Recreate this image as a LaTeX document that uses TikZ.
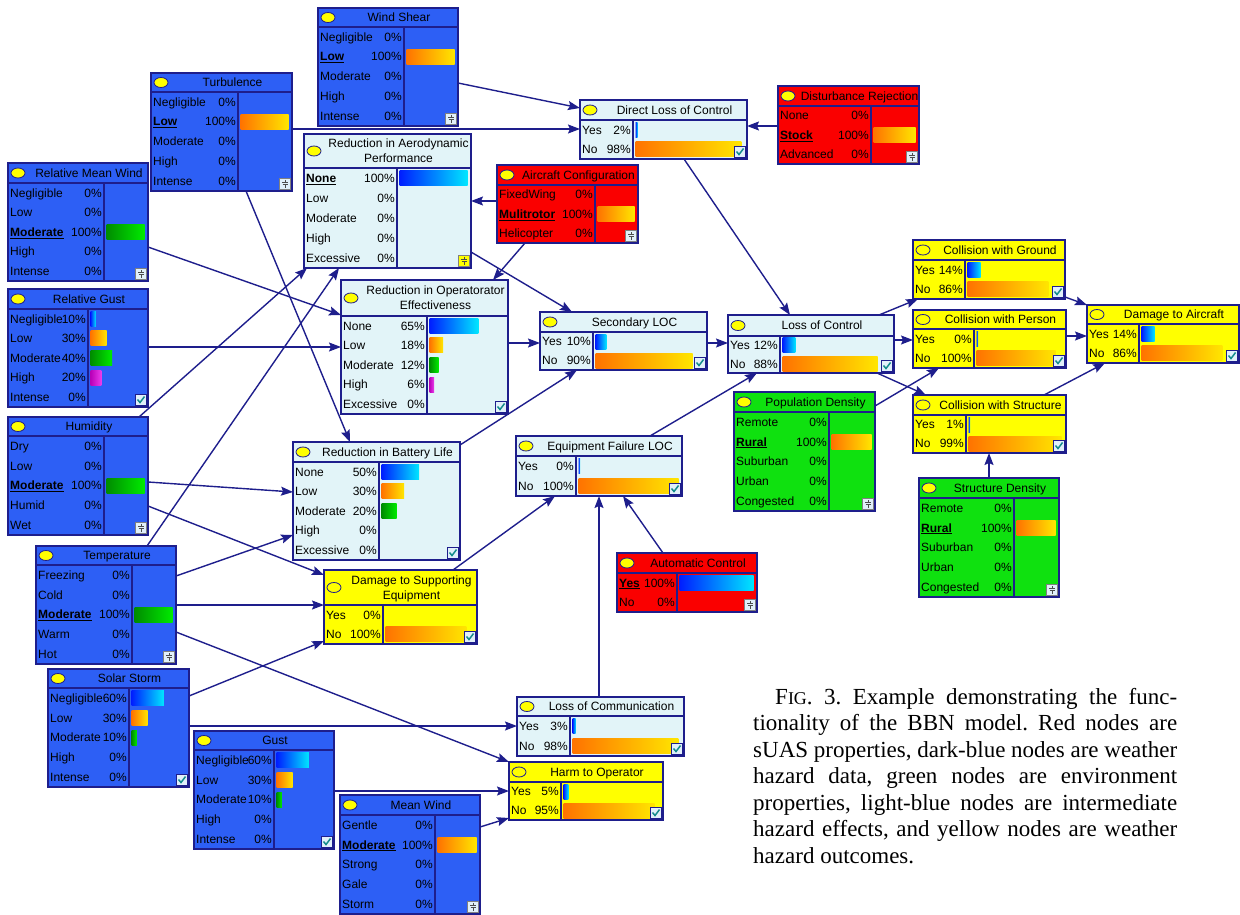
\documentclass[tikz,border=0pt]{standalone}
\usepackage{fontspec}
\setmainfont{Liberation Sans}
\newfontfamily\capfont{Liberation Serif}
\usetikzlibrary{arrows.meta}
\definecolor{navy}{RGB}{30,30,140}
\definecolor{nblue}{RGB}{45,95,245}
\definecolor{nlight}{RGB}{226,244,248}
\definecolor{nred}{RGB}{250,0,0}
\definecolor{ngreen}{RGB}{15,225,15}
\definecolor{nyellow}{RGB}{255,255,0}
\definecolor{bB1}{RGB}{0,30,255}
\definecolor{bB2}{RGB}{0,230,255}
\definecolor{bO1}{RGB}{255,115,0}
\definecolor{bO2}{RGB}{255,230,0}
\definecolor{bG1}{RGB}{0,140,0}
\definecolor{bG2}{RGB}{0,235,0}
\definecolor{bM1}{RGB}{185,0,185}
\definecolor{bM2}{RGB}{235,60,235}
\definecolor{chk}{RGB}{20,140,140}
\definecolor{icbg}{RGB}{225,240,250}
\tikzset{
  box/.style={draw=navy, line width=1.5pt, inner sep=0pt, outer sep=0pt, anchor=north west},
  sepl/.style={draw=navy, line width=1.3pt},
  conn/.style={draw=navy, line width=1.4pt, -{Stealth[length=12pt,width=9pt,inset=2pt]}},
  txt/.style={font=\fontsize{12}{14}\selectfont, inner sep=0pt},
  lbl/.style={txt, anchor=base west},
  pct/.style={txt, anchor=base east},
  ttl/.style={txt, anchor=base},
  barB/.style={left color=bB1, right color=bB2},
  barO/.style={left color=bO1, right color=bO2},
  barG/.style={left color=bG1, right color=bG2},
  barM/.style={left color=bM1, right color=bM2},
  capline/.style={font=\capfont\fontsize{23}{26}\selectfont\frenchspacing, inner sep=0pt, anchor=base west},
}
\newcommand{\selst}[1]{\underline{\textbf{#1}}}
\newcommand{\bbn}[9]{%
  \def\bname{#1}\def\bx{#3}\def\by{#4}\def\bX{#5}\def\bY{#6}\def\btb{#7}\def\bdv{#8}%
  \pgfmathsetmacro{\bw}{#5-#3}\pgfmathsetmacro{\bh}{#6-#4}%
  \node[box, fill=#2, minimum width=\bw pt, minimum height=\bh pt] (#1) at (#3,#4) {};%
  \draw[sepl] (#3,#7) -- (#5,#7);%
  \draw[sepl] (#8,#7) -- (#8,#6);%
  \pgfmathsetmacro{\tyc}{(#4+#7)/2}%
  \pgfmathsetmacro{\txc}{(#3+22+#5)/2}%
  \draw[navy, line width=0.8pt, fill=nyellow] (#3+10,\tyc) ellipse [x radius=7pt, y radius=5pt];%
  \node[ttl] (#1-t) at (\txc,\tyc+4.3) {#9};%
}
\newcommand{\ttwo}[2]{%
  \pgfmathsetmacro{\tyc}{(\by+\btb)/2}\pgfmathsetmacro{\txc}{(\bx+22+\bX)/2}%
  \node[ttl] (\bname-ta) at (\txc,\tyc-7.5+4.3) {#1};%
  \node[ttl] (\bname-tb) at (\txc,\tyc+7.5+4.3) {#2};%
}
\newcommand{\brow}[4]{%
  \pgfmathsetmacro{\ryc}{\btb+(#1-0.5)*(\bY-\btb)/#2}%
  \node[lbl] (\bname-l#1) at (\bx+2,\ryc+4.3) {#3};%
  \node[pct] (\bname-p#1) at (\bdv-2,\ryc+4.3) {#4};%
}
\newcommand{\bbar}[4]{%
  \pgfmathsetmacro{\ryc}{\btb+(#1-0.5)*(\bY-\btb)/#2}%
  \pgfmathsetmacro{\rxe}{\bdv+2.5+max(1.6,#4*(\bX-\bdv-6))}%
  \shade[#3] (\bdv+2.5,\ryc-7.5) rectangle (\rxe,\ryc+7.5);%
}
\newcommand{\icheck}{%
  \draw[navy, line width=0.8pt, fill=icbg] (\bX-12.5,\bY-12.5) rectangle (\bX-1.5,\bY-1.5);%
  \draw[chk, line width=1.5pt] (\bX-10.5,\bY-7.5) -- (\bX-8,\bY-4.5) -- (\bX-3.5,\bY-10.5);%
}
\newcommand{\iplug}[1][icbg]{%
  \draw[gray, line width=0.7pt, fill=#1] (\bX-12.5,\bY-12.5) rectangle (\bX-1.5,\bY-1.5);%
  \draw[black!70, line width=0.8pt] (\bX-7,\bY-11) -- (\bX-7,\bY-8.5) (\bX-10,\bY-8.5) -- (\bX-4,\bY-8.5) (\bX-9.5,\bY-6.5) -- (\bX-4.5,\bY-6.5) (\bX-7,\bY-6.5) -- (\bX-7,\bY-3);%
}
\begin{document}
\begin{tikzpicture}[x=1pt,y=-1pt]
\useasboundingbox (0,0) rectangle (1240,915);
% ---- Wind Shear
\bbn{ws}{nblue}{318}{8}{458}{126}{27}{404}{Wind Shear}
\brow{1}{5}{Negligible}{0\%}
\bbar{2}{5}{barO}{1}\brow{2}{5}{\selst{Low}}{100\%}
\brow{3}{5}{Moderate}{0\%}
\brow{4}{5}{High}{0\%}
\brow{5}{5}{Intense}{0\%}
\iplug
% ---- Turbulence
\bbn{turb}{nblue}{151}{73}{292}{191}{92}{238}{Turbulence}
\brow{1}{5}{Negligible}{0\%}
\bbar{2}{5}{barO}{1}\brow{2}{5}{\selst{Low}}{100\%}
\brow{3}{5}{Moderate}{0\%}
\brow{4}{5}{High}{0\%}
\brow{5}{5}{Intense}{0\%}
\iplug
% ---- Relative Mean Wind
\bbn{rmw}{nblue}{8}{163}{148}{281}{183}{104}{Relative Mean Wind}
\brow{1}{5}{Negligible}{0\%}
\brow{2}{5}{Low}{0\%}
\bbar{3}{5}{barG}{1}\brow{3}{5}{\selst{Moderate}}{100\%}
\brow{4}{5}{High}{0\%}
\brow{5}{5}{Intense}{0\%}
\iplug
% ---- Reduction in Aerodynamic Performance
\bbn{rap}{nlight}{304}{134}{471}{268}{168}{397}{}
\ttwo{Reduction in Aerodynamic}{Performance}
\bbar{1}{5}{barB}{1}\brow{1}{5}{\selst{None}}{100\%}
\brow{2}{5}{Low}{0\%}
\brow{3}{5}{Moderate}{0\%}
\brow{4}{5}{High}{0\%}
\brow{5}{5}{Excessive}{0\%}
\iplug[nyellow]
% ---- Relative Gust
\bbn{rg}{nblue}{8}{289}{148}{407}{309}{88}{Relative Gust}
\bbar{1}{5}{barB}{0.1}\brow{1}{5}{Negligible}{10\%}
\bbar{2}{5}{barO}{0.3}\brow{2}{5}{Low}{30\%}
\bbar{3}{5}{barG}{0.4}\brow{3}{5}{Moderate}{40\%}
\bbar{4}{5}{barM}{0.2}\brow{4}{5}{High}{20\%}
\brow{5}{5}{Intense}{0\%}
\icheck
% ---- Humidity
\bbn{hum}{nblue}{8}{417}{148}{535}{436}{104}{Humidity}
\brow{1}{5}{Dry}{0\%}
\brow{2}{5}{Low}{0\%}
\bbar{3}{5}{barG}{1}\brow{3}{5}{\selst{Moderate}}{100\%}
\brow{4}{5}{Humid}{0\%}
\brow{5}{5}{Wet}{0\%}
\iplug
% ---- Temperature
\bbn{temp}{nblue}{36}{546}{176}{664}{565}{132}{Temperature}
\brow{1}{5}{Freezing}{0\%}
\brow{2}{5}{Cold}{0\%}
\bbar{3}{5}{barG}{1}\brow{3}{5}{\selst{Moderate}}{100\%}
\brow{4}{5}{Warm}{0\%}
\brow{5}{5}{Hot}{0\%}
\iplug
% ---- Solar Storm
\bbn{solar}{nblue}{48}{669}{189}{787}{688}{129}{Solar Storm}
\bbar{1}{5}{barB}{0.6}\brow{1}{5}{Negligible}{60\%}
\bbar{2}{5}{barO}{0.3}\brow{2}{5}{Low}{30\%}
\bbar{3}{5}{barG}{0.1}\brow{3}{5}{Moderate}{10\%}
\brow{4}{5}{High}{0\%}
\brow{5}{5}{Intense}{0\%}
\icheck
% ---- Gust
\bbn{gust}{nblue}{194}{731}{334}{849}{750}{274}{Gust}
\bbar{1}{5}{barB}{0.6}\brow{1}{5}{Negligible}{60\%}
\bbar{2}{5}{barO}{0.3}\brow{2}{5}{Low}{30\%}
\bbar{3}{5}{barG}{0.1}\brow{3}{5}{Moderate}{10\%}
\brow{4}{5}{High}{0\%}
\brow{5}{5}{Intense}{0\%}
\icheck
% ---- Mean Wind
\bbn{mw}{nblue}{340}{795}{480}{914}{815}{435}{Mean Wind}
\brow{1}{5}{Gentle}{0\%}
\bbar{2}{5}{barO}{1}\brow{2}{5}{\selst{Moderate}}{100\%}
\brow{3}{5}{Strong}{0\%}
\brow{4}{5}{Gale}{0\%}
\brow{5}{5}{Storm}{0\%}
\iplug
% ---- Direct Loss of Control
\bbn{dloc}{nlight}{580}{100}{747}{159}{120}{633}{Direct Loss of Control}
\bbar{1}{2}{barB}{0.02}\brow{1}{2}{Yes}{2\%}
\bbar{2}{2}{barO}{0.98}\brow{2}{2}{No}{98\%}
\icheck
% ---- Disturbance Rejection
\bbn{dr}{nred}{778}{86}{919}{164}{106}{871}{Disturbance Rejection}
\brow{1}{3}{None}{0\%}
\bbar{2}{3}{barO}{1}\brow{2}{3}{\selst{Stock}}{100\%}
\brow{3}{3}{Advanced}{0\%}
\iplug
% ---- Aircraft Configuration
\bbn{ac}{nred}{497}{165}{638}{243}{185}{595}{Aircraft Configuration}
\brow{1}{3}{FixedWing}{0\%}
\bbar{2}{3}{barO}{1}\brow{2}{3}{\selst{Mulitrotor}}{100\%}
\brow{3}{3}{Helicopter}{0\%}
\iplug
% ---- Reduction in Operatorator Effectiveness
\bbn{roe}{nlight}{341}{280}{508}{414}{316}{427}{}
\ttwo{Reduction in Operatorator}{Effectiveness}
\bbar{1}{5}{barB}{0.65}\brow{1}{5}{None}{65\%}
\bbar{2}{5}{barO}{0.18}\brow{2}{5}{Low}{18\%}
\bbar{3}{5}{barG}{0.12}\brow{3}{5}{Moderate}{12\%}
\bbar{4}{5}{barM}{0.06}\brow{4}{5}{High}{6\%}
\brow{5}{5}{Excessive}{0\%}
\icheck
% ---- Secondary LOC
\bbn{sloc}{nlight}{540}{312}{707}{370}{332}{593}{Secondary LOC}
\bbar{1}{2}{barB}{0.1}\brow{1}{2}{Yes}{10\%}
\bbar{2}{2}{barO}{0.9}\brow{2}{2}{No}{90\%}
\icheck
% ---- Loss of Control
\bbn{loc}{nlight}{728}{315}{894}{373}{336}{780}{Loss of Control}
\bbar{1}{2}{barB}{0.12}\brow{1}{2}{Yes}{12\%}
\bbar{2}{2}{barO}{0.88}\brow{2}{2}{No}{88\%}
\icheck
% ---- Reduction in Battery Life
\bbn{rbl}{nlight}{293}{442}{460}{560}{462}{379}{Reduction in Battery Life}
\bbar{1}{5}{barB}{0.5}\brow{1}{5}{None}{50\%}
\bbar{2}{5}{barO}{0.3}\brow{2}{5}{Low}{30\%}
\bbar{3}{5}{barG}{0.2}\brow{3}{5}{Moderate}{20\%}
\brow{4}{5}{High}{0\%}
\brow{5}{5}{Excessive}{0\%}
\icheck
% ---- Damage to Supporting Equipment
\bbn{dse}{nyellow}{324}{570}{477}{644}{605}{383}{}
\ttwo{Damage to Supporting}{Equipment}
\brow{1}{2}{Yes}{0\%}
\bbar{2}{2}{barO}{0.92}\brow{2}{2}{No}{100\%}
\icheck
% ---- Equipment Failure LOC
\bbn{efloc}{nlight}{516}{436}{682}{496}{456}{576}{Equipment Failure LOC}
\bbar{1}{2}{barB}{0}\brow{1}{2}{Yes}{0\%}
\bbar{2}{2}{barO}{1}\brow{2}{2}{No}{100\%}
\icheck
% ---- Automatic Control
\bbn{autoc}{nred}{617}{553}{757}{612}{573}{677}{Automatic Control}
\bbar{1}{2}{barB}{1}\brow{1}{2}{\selst{Yes}}{100\%}
\brow{2}{2}{No}{0\%}
\iplug
% ---- Loss of Communication
\bbn{lcomm}{nlight}{517}{697}{684}{756}{716}{570}{Loss of Communication}
\bbar{1}{2}{barB}{0.03}\brow{1}{2}{Yes}{3\%}
\bbar{2}{2}{barO}{0.98}\brow{2}{2}{No}{98\%}
\icheck
% ---- Harm to Operator
\bbn{harm}{nyellow}{509}{762}{663}{820}{782}{561}{Harm to Operator}
\bbar{1}{2}{barB}{0.05}\brow{1}{2}{Yes}{5\%}
\bbar{2}{2}{barO}{0.95}\brow{2}{2}{No}{95\%}
\icheck
% ---- Collision with Ground
\bbn{cwg}{nyellow}{913}{240}{1065}{299}{260}{965}{Collision with Ground}
\bbar{1}{2}{barB}{0.14}\brow{1}{2}{Yes}{14\%}
\bbar{2}{2}{barO}{0.86}\brow{2}{2}{No}{86\%}
\icheck
% ---- Collision with Person
\bbn{cwp}{nyellow}{913}{310}{1066}{368}{329}{974}{Collision with Person}
\bbar{1}{2}{barB}{0}\brow{1}{2}{Yes}{0\%}
\bbar{2}{2}{barO}{0.92}\brow{2}{2}{No}{100\%}
\icheck
% ---- Damage to Aircraft
\bbn{dta}{nyellow}{1087}{305}{1239}{363}{324}{1139}{Damage to Aircraft}
\bbar{1}{2}{barB}{0.14}\brow{1}{2}{Yes}{14\%}
\bbar{2}{2}{barO}{0.86}\brow{2}{2}{No}{86\%}
\icheck
% ---- Collision with Structure
\bbn{cws}{nyellow}{913}{395}{1066}{453}{415}{966}{Collision with Structure}
\bbar{1}{2}{barB}{0.01}\brow{1}{2}{Yes}{1\%}
\bbar{2}{2}{barO}{0.99}\brow{2}{2}{No}{99\%}
\icheck
% ---- Population Density
\bbn{pd}{ngreen}{734}{392}{875}{511}{412}{829}{Population Density}
\brow{1}{5}{Remote}{0\%}
\bbar{2}{5}{barO}{1}\brow{2}{5}{\selst{Rural}}{100\%}
\brow{3}{5}{Suburban}{0\%}
\brow{4}{5}{Urban}{0\%}
\brow{5}{5}{Congested}{0\%}
\iplug
% ---- Structure Density
\bbn{sd}{ngreen}{919}{478}{1059}{597}{498}{1014}{Structure Density}
\brow{1}{5}{Remote}{0\%}
\bbar{2}{5}{barO}{1}\brow{2}{5}{\selst{Rural}}{100\%}
\brow{3}{5}{Suburban}{0\%}
\brow{4}{5}{Urban}{0\%}
\brow{5}{5}{Congested}{0\%}
\iplug
% ---- connectors
\draw[conn] (ws.east |- 0,83) -- (dloc.west |- 0,108);
\draw[conn] (turb.east |- 0,129) -- (dloc.west |- 0,129);
\draw[conn] (turb.south -| 246,0) -- (rbl.north -| 350,0);
\draw[conn] (rmw.east |- 0,247) -- (roe.west |- 0,315);
\draw[conn] (rg.east |- 0,347) -- (roe.west |- 0,347);
\draw[conn] (hum.north -| 139,0) -- (rap.south -| 307,0);
\draw[conn] (temp.north -| 147,0) -- (rap.south -| 339,0);
\draw[conn] (ac.west |- 0,201) -- (rap.east |- 0,201);
\draw[conn] (ac.south -| 525,0) -- (roe.north -| 493,0);
\draw[conn] (rap.east |- 0,252) -- (sloc.north -| 572,0);
\draw[conn] (roe.east |- 0,343) -- (sloc.west |- 0,343);
\draw[conn] (sloc.east |- 0,343) -- (loc.west |- 0,343);
\draw[conn] (dloc.south -| 684,0) -- (loc.north -| 790,0);
\draw[conn] (dr.west |- 0,126) -- (dloc.east |- 0,126);
\draw[conn] (rbl.east |- 0,445) -- (sloc.south -| 577,0);
\draw[conn] (dse.north -| 453,0) -- (efloc.south -| 555,0);
\draw[conn] (efloc.north -| 650,0) -- (loc.south -| 757,0);
\draw[conn] (lcomm.north -| 599,0) -- (efloc.south -| 599,0);
\draw[conn] (autoc.north -| 663,0) -- (efloc.south -| 623,0);
\draw[conn] (hum.east |- 0,482) -- (rbl.west |- 0,492);
\draw[conn] (hum.east |- 0,506) -- (dse.west |- 0,575);
\draw[conn] (temp.east |- 0,576) -- (rbl.west |- 0,535);
\draw[conn] (temp.east |- 0,605) -- (dse.west |- 0,605);
\draw[conn] (temp.east |- 0,632) -- (harm.north west);
\draw[conn] (solar.east |- 0,696) -- (dse.west |- 0,641);
\draw[conn] (solar.east |- 0,726) -- (lcomm.west |- 0,726);
\draw[conn] (gust.east |- 0,791) -- (harm.west |- 0,791);
\draw[conn] (mw.east |- 0,827) -- (harm.west |- 0,818);
\draw[conn] (loc.north -| 879,0) -- (cwg.south -| 918,0);
\draw[conn] (loc.east |- 0,340) -- (cwp.west |- 0,340);
\draw[conn] (loc.south -| 877,0) -- (cws.north -| 926,0);
\draw[conn] (pd.east |- 0,406) -- (cwp.south -| 939,0);
\draw[conn] (sd.north -| 989,0) -- (cws.south -| 989,0);
\draw[conn] (cwg.east |- 0,297) -- (dta.north west);
\draw[conn] (cwp.east |- 0,336) -- (dta.west |- 0,336);
\draw[conn] (cws.north -| 1044,0) -- (dta.south -| 1105,0);
% ---- caption
\node[capline] (cap1) at (775,704) {\makebox[402pt][s]{F{\fontsize{18}{20}\selectfont IG}. 3. Example demonstrating the func-}};
\node[capline] (cap2) at (753,730.5) {\makebox[424pt][s]{tionality of the BBN model. Red nodes are}};
\node[capline] (cap3) at (753,757) {\makebox[424pt][s]{sUAS properties, dark-blue nodes are weather}};
\node[capline] (cap4) at (753,783.5) {\makebox[424pt][s]{hazard data, green nodes are environment}};
\node[capline] (cap5) at (753,810) {\makebox[424pt][s]{properties, light-blue nodes are intermediate}};
\node[capline] (cap6) at (753,836.5) {\makebox[424pt][s]{hazard effects, and yellow nodes are weather}};
\node[capline] (cap7) at (753,863) {hazard outcomes.};
\end{tikzpicture}
\end{document}
